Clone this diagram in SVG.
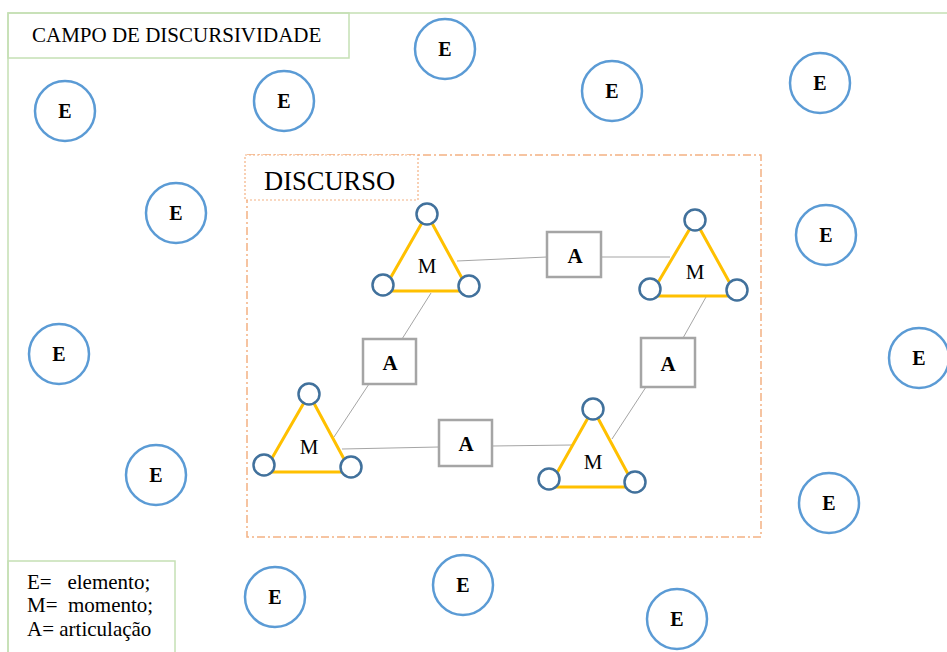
<svg xmlns="http://www.w3.org/2000/svg" width="947" height="652" viewBox="0 0 947 652">
<style>
.frame{fill:none;stroke:#C5E0B4;stroke-width:1.5}
.e{fill:#fff;stroke:#5B9BD5;stroke-width:2.5}
.et{font-family:"Liberation Serif",serif;font-weight:bold;font-size:20px;text-anchor:middle;fill:#000}
.tri{fill:none;stroke:#FFC000;stroke-width:3;stroke-linejoin:round}
.v{fill:#fff;stroke:#41719C;stroke-width:2.5}
.mt{font-family:"Liberation Serif",serif;font-size:21px;text-anchor:middle;fill:#000}
.a{fill:#fff;stroke:#A5A5A5;stroke-width:2.5}
.at{font-family:"Liberation Serif",serif;font-weight:bold;font-size:21px;text-anchor:middle;fill:#000}
.con{stroke:#A5A5A5;stroke-width:1;fill:none}
.lbl{font-family:"Liberation Serif",serif;font-size:21px;fill:#000}
</style>
<rect width="947" height="652" fill="#fff"/>
<g id="campo">
<path class="frame" d="M8,652 V13 H947"/>
<rect class="frame" x="8" y="13" width="341" height="45" fill="#fff"/>
<text class="lbl" x="32" y="42">CAMPO DE DISCURSIVIDADE</text>
</g>
<g id="legend">
<rect class="frame" x="8" y="561" width="167" height="95" fill="#fff"/>
<text class="lbl" xml:space="preserve" x="27" y="589">E=   elemento;</text>
<text class="lbl" xml:space="preserve" x="27" y="612">M=  momento;</text>
<text class="lbl" x="27" y="636">A= articulação</text>
</g>
<g id="discurso">
<rect x="247" y="155" width="514" height="382" fill="none" stroke="#F4B183" stroke-width="1.5" stroke-dasharray="8,3,2,3"/>
<rect x="245" y="155" width="173" height="45" fill="#fff" stroke="#F4B183" stroke-width="1.2" stroke-dasharray="2,2"/>
<text x="264" y="190" font-family="'Liberation Serif',serif" font-size="26.5" fill="#000">DISCURSO</text>
</g>
<g id="connectors">
<line class="con" x1="457" y1="261" x2="547" y2="257"/>
<line class="con" x1="601" y1="257" x2="670" y2="257"/>
<line class="con" x1="431" y1="293" x2="402" y2="339"/>
<line class="con" x1="369" y1="384" x2="334" y2="437"/>
<line class="con" x1="342" y1="449" x2="439" y2="447"/>
<line class="con" x1="492" y1="446" x2="572" y2="445"/>
<line class="con" x1="706" y1="297" x2="683" y2="338"/>
<line class="con" x1="646" y1="387" x2="612" y2="439"/>
</g>
<g id="E1"><circle class="e" cx="65" cy="111" r="30"/><text class="et" x="65" y="118">E</text></g>
<g id="E2"><circle class="e" cx="284" cy="101" r="30"/><text class="et" x="284" y="108">E</text></g>
<g id="E3"><circle class="e" cx="445" cy="49" r="30"/><text class="et" x="445" y="56">E</text></g>
<g id="E4"><circle class="e" cx="612" cy="91" r="30"/><text class="et" x="612" y="98">E</text></g>
<g id="E5"><circle class="e" cx="820" cy="83" r="30"/><text class="et" x="820" y="90">E</text></g>
<g id="E6"><circle class="e" cx="176" cy="213" r="30"/><text class="et" x="176" y="220">E</text></g>
<g id="E7"><circle class="e" cx="826" cy="235" r="30"/><text class="et" x="826" y="242">E</text></g>
<g id="E8"><circle class="e" cx="59" cy="354" r="30"/><text class="et" x="59" y="361">E</text></g>
<g id="E9"><circle class="e" cx="919" cy="358" r="30"/><text class="et" x="919" y="365">E</text></g>
<g id="E10"><circle class="e" cx="156" cy="475" r="30"/><text class="et" x="156" y="482">E</text></g>
<g id="E11"><circle class="e" cx="829" cy="503" r="30"/><text class="et" x="829" y="510">E</text></g>
<g id="E12"><circle class="e" cx="275" cy="597" r="30"/><text class="et" x="275" y="604">E</text></g>
<g id="E13"><circle class="e" cx="463" cy="585" r="30"/><text class="et" x="463" y="592">E</text></g>
<g id="E14"><circle class="e" cx="677" cy="619" r="30"/><text class="et" x="677" y="626">E</text></g>
<g id="M1">
<polygon class="tri" points="427,214 383,291 469,291"/>
<circle class="v" cx="427" cy="214" r="10.5"/><circle class="v" cx="383" cy="285" r="10.5"/><circle class="v" cx="469" cy="286" r="10.5"/>
<text class="mt" x="427" y="273">M</text>
</g>
<g id="M2">
<polygon class="tri" points="695,220 650,296 737,296"/>
<circle class="v" cx="695" cy="220" r="10.5"/><circle class="v" cx="650" cy="289" r="10.5"/><circle class="v" cx="737" cy="290" r="10.5"/>
<text class="mt" x="695" y="279">M</text>
</g>
<g id="M3">
<polygon class="tri" points="309,394 264,472 351,472"/>
<circle class="v" cx="309" cy="394" r="10.5"/><circle class="v" cx="264" cy="465" r="10.5"/><circle class="v" cx="351" cy="467" r="10.5"/>
<text class="mt" x="309" y="454">M</text>
</g>
<g id="M4">
<polygon class="tri" points="593,409 549,487 635,487"/>
<circle class="v" cx="593" cy="409" r="10.5"/><circle class="v" cx="549" cy="479" r="10.5"/><circle class="v" cx="635" cy="482" r="10.5"/>
<text class="mt" x="593" y="469">M</text>
</g>
<g id="A1"><rect class="a" x="547" y="232" width="54" height="45"/><text class="at" x="575" y="263">A</text></g>
<g id="A2"><rect class="a" x="363" y="339" width="53" height="45"/><text class="at" x="390" y="370">A</text></g>
<g id="A3"><rect class="a" x="439" y="420" width="53" height="46"/><text class="at" x="466" y="451">A</text></g>
<g id="A4"><rect class="a" x="641" y="338" width="54" height="49"/><text class="at" x="668" y="371">A</text></g>
</svg>
